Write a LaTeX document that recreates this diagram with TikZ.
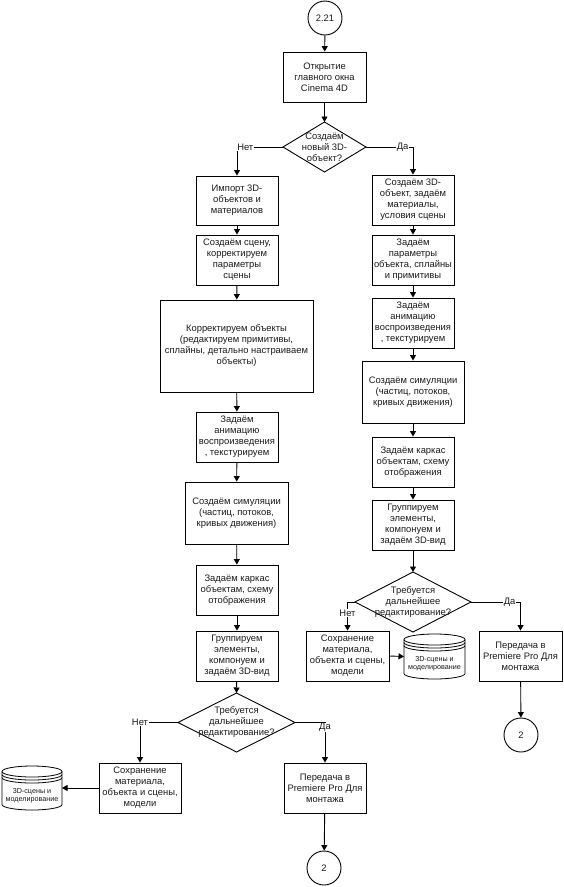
\documentclass[tikz,border=0pt]{standalone}
\usepackage{fontspec}
\setmainfont{Liberation Sans}
\usetikzlibrary{arrows.meta,shapes.geometric}
\definecolor{ink}{HTML}{1A1A1A}
\tikzset{
 x=1pt,y=-1pt,
 base/.style={draw=black,line width=0.9pt,align=center,font=\fontsize{9.4}{11}\selectfont,text=ink,inner sep=0pt},
 circ/.style={base,circle,minimum size=34pt},
 conn/.style={draw=black,line width=0.9pt,-{Triangle[length=5.5pt,width=6pt]}},
 lab/.style={fill=white,font=\fontsize{9.4}{11}\selectfont,text=ink,inner sep=0.6pt},
 cyltxt/.style={align=center,font=\fontsize{7.2}{8.2}\selectfont,text=ink,inner sep=0pt},
}
% box: name, x1, y1, x2, y2, text
\newcommand{\bx}[6]{\node[base,rectangle,minimum width=#4pt-#2pt,minimum height=#5pt-#3pt] (#1) at ({(#2+#4)/2},{(#3+#5)/2}) {#6};}
% diamond: name, x1, y1, x2, y2, text
\newcommand{\dm}[6]{%
 \coordinate (#1 west) at (#2,{(#3+#5)/2});
 \coordinate (#1 east) at (#4,{(#3+#5)/2});
 \coordinate (#1 north) at ({(#2+#4)/2},#3);
 \coordinate (#1 south) at ({(#2+#4)/2},#5);
 \draw[black,line width=0.9pt] (#1 west)--(#1 north)--(#1 east)--(#1 south)--cycle;
 \node[align=center,font=\fontsize{9.4}{11}\selectfont,text=ink,inner sep=0pt] (#1) at ({(#2+#4)/2},{(#3+#5)/2}) {#6};}
% cylinder: name, x1, y1, x2, y2, text
\newcommand{\cyl}[6]{%
 \pgfmathsetmacro{\mx}{(#2+#4)/2}
 \pgfmathsetmacro{\rx}{(#4-#2)/2}
 \draw[black,line width=0.8pt,fill=white] (#2,#3+5.5) arc[start angle=180,end angle=360,x radius=\rx,y radius=5.5]
   -- (#4,#5-5.5) arc[start angle=0,end angle=180,x radius=\rx,y radius=5.5] -- cycle;
 \draw[black,line width=0.8pt] (#2,#3+5.5) arc[start angle=180,end angle=0,x radius=\rx,y radius=5.5];
 \draw[black,line width=0.8pt] (#2,#3+8.5) arc[start angle=180,end angle=0,x radius=\rx,y radius=5.5];
 \draw[black,line width=0.8pt] (#2,#3+11.5) arc[start angle=180,end angle=0,x radius=\rx,y radius=5.5];
 \coordinate (#1 west) at (#2,{(#3+#5)/2});
 \coordinate (#1 east) at (#4,{(#3+#5)/2});
 \node[cyltxt] (#1) at (\mx,{#3+30}) {#6};}
\begin{document}
\begin{tikzpicture}
\useasboundingbox (0,0) rectangle (564,887);
\node[circ] (start) at (325,18) {2.21};
\bx{open}{283}{52}{366}{102}{Открытие\\главного окна\\Cinema 4D}
\dm{d1}{283}{122}{366}{172}{Создаём\\новый 3D-\\объект?}
% left
\bx{imp}{196}{176}{278}{225}{Импорт 3D-\\объектов и\\материалов}
\bx{lscene}{196}{235}{278}{285}{Создаём сцену,\\корректируем\\параметры\\сцены}
\bx{lcorr}{160}{300}{313}{392}{Корректируем объекты\\(редактируем примитивы,\\сплайны, детально настраиваем\\объекты)}
\bx{lanim}{196}{412}{278}{462}{Задаём\\анимацию\\воспроизведения\\, текстурируем}
\bx{lsim}{185}{482}{288}{544}{Создаём симуляции\\(частиц, потоков,\\кривых движения)}
\bx{lframe}{196}{565}{278}{615}{Задаём каркас\\объектам, схему\\отображения}
\bx{lgroup}{196}{631}{278}{681}{Группируем\\элементы,\\компонуем и\\задаём 3D-вид}
\dm{d3}{178}{693}{295}{752}{Требуется\\дальнейшее\\редактирование?}
\bx{lsave}{99}{763}{181}{813}{Сохранение\\материала,\\объекта и сцены,\\модели}
\bx{ltrans}{284}{763}{366}{813}{Передача в\\Premiere Pro Для\\монтажа}
\node[circ] (lend) at (324,868) {2};
\cyl{lcyl}{2}{766}{62}{810}{3D-сцены и\\моделирование}
% right
\bx{rcreate}{372}{175}{454}{225}{Создаём 3D-\\объект, задаём\\материалы,\\условия сцены}
\bx{rparam}{372}{235}{454}{285}{Задаём\\параметры\\объекта, сплайны\\и примитивы}
\bx{ranim}{372}{298}{454}{348}{Задаём\\анимацию\\воспроизведения\\, текстурируем}
\bx{rsim}{362}{361}{464}{423}{Создаём симуляции\\(частиц, потоков,\\кривых движения)}
\bx{rframe}{372}{437}{454}{487}{Задаём каркас\\объектам, схему\\отображения}
\bx{rgroup}{372}{500}{454}{550}{Группируем\\элементы,\\компонуем и\\задаём 3D-вид}
\dm{d2}{355}{572}{471}{632}{Требуется\\дальнейшее\\редактирование?}
\bx{rsave}{306}{631}{389}{681}{Сохранение\\материала,\\объекта и сцены,\\модели}
\bx{rtrans}{479}{631}{562}{681}{Передача в\\Premiere Pro Для\\монтажа}
\node[circ] (rend) at (521,735) {2};
\cyl{rcyl}{404}{634}{465}{679}{3D-сцены и\\моделирование}
% connectors
\draw[conn] (start) -- (open);
\draw[conn] (open) -- (d1 north);
\draw[conn] (d1 west) -| node[lab,pos=0.41] {Нет} (imp.north);
\draw[conn] (d1 east) -| node[lab,pos=0.39] {Да} (rcreate.north);
\draw[conn] (imp) -- (lscene);
\draw[conn] (lscene) -- (lcorr);
\draw[conn] (lcorr) -- (lanim);
\draw[conn] (lanim) -- (lsim);
\draw[conn] (lsim) -- (lframe);
\draw[conn] (lframe) -- (lgroup);
\draw[conn] (lgroup) -- (d3 north);
\draw[conn] (d3 west) -| node[lab,pos=0.5] {Нет} (lsave.north);
\draw[conn] (d3 east) -| node[lab,pos=0.56] {Да} (ltrans.north);
\draw[conn] (lsave.west) -- (lcyl east);
\draw[conn] (ltrans) -- (lend);
\draw[conn] (rcreate) -- (rparam);
\draw[conn] (rparam) -- (ranim);
\draw[conn] (ranim) -- (rsim);
\draw[conn] (rsim) -- (rframe);
\draw[conn] (rframe) -- (rgroup);
\draw[conn] (rgroup) -- (d2 north);
\draw[conn] (d2 west) -| node[lab,pos=0.69] {Нет} (rsave.north);
\draw[conn] (d2 east) -| node[lab,pos=0.39] {Да} (rtrans.north);
\draw[conn] (rsave.east) -- (rcyl west);
\draw[conn] (rtrans) -- (rend);
\end{tikzpicture}
\end{document}
